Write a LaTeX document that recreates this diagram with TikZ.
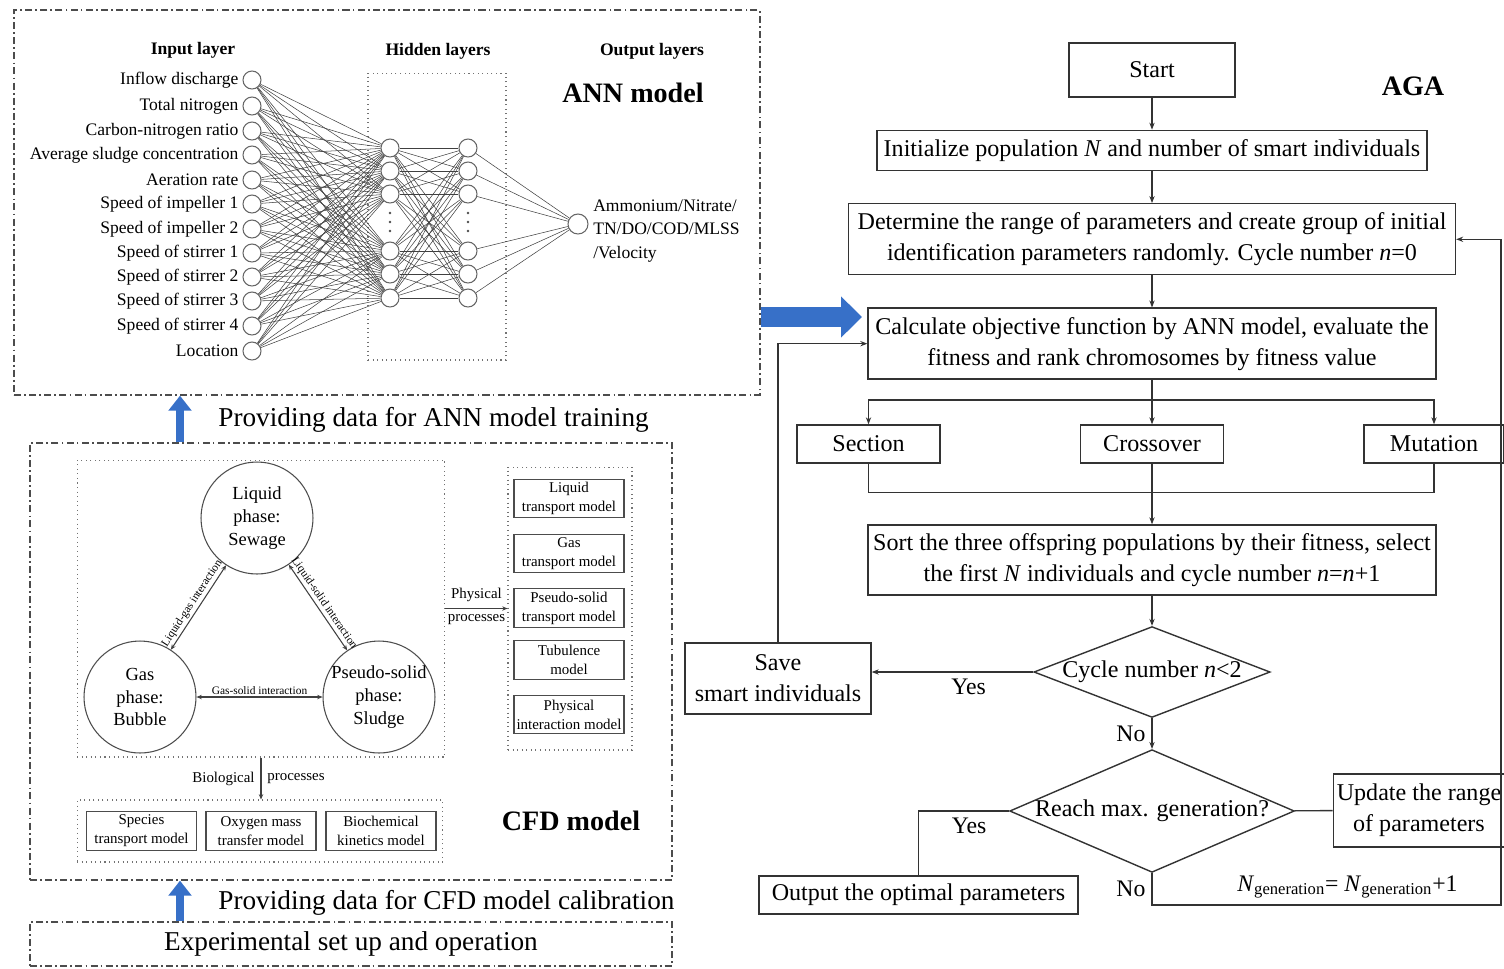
\documentclass[tikz,border=0pt]{standalone}
\usepackage{amsmath}
\usepackage{fontspec}
\setmainfont{Liberation Serif}
\usetikzlibrary{positioning,arrows.meta,shapes.geometric}

\definecolor{arrowblue}{RGB}{55,112,200}

\begin{document}
\begin{tikzpicture}[x=0.02cm,y=-0.02cm,node distance=0.64cm,line width=0.6pt,
  neuron/.style={circle,draw=black!60,inner sep=0pt,minimum size=0.36cm},
  link/.style={draw=black!75,line width=0.3pt},
  inlabel/.style={font=\fontsize{10}{13.3}\selectfont,inner sep=1pt},
  headtxt/.style={font=\bfseries\fontsize{10}{12}\selectfont},
  titletxt/.style={font=\bfseries\fontsize{16}{19}\selectfont},
  notetxt/.style={font=\fontsize{15.5}{18}\selectfont},
  smalltxt/.style={font=\fontsize{8.5}{10}\selectfont},
  tinytxt/.style={font=\fontsize{6.5}{8}\selectfont,inner sep=1pt},
  dashbox/.style={draw=black!70,line width=0.8pt,dash pattern=on 4pt off 1.8pt on 1pt off 1.8pt,inner sep=0pt},
  dotbox/.style={draw=black!55,dotted,line width=0.6pt,inner sep=0pt},
  phase/.style={circle,draw=black!70,inner sep=-8pt,minimum size=2.24cm,align=center,font=\fontsize{10.5}{13}\selectfont},
  model/.style={draw=black!70,inner sep=0pt,minimum width=2.2cm,minimum height=0.77cm,align=center,font=\fontsize{8.5}{10.8}\selectfont},
  interact/.style={draw=black!75,{Stealth[length=3pt,width=2.5pt]}-{Stealth[length=3pt,width=2.5pt]}},
  sarrow/.style={draw=black!75,-{Stealth[length=3pt,width=2.5pt]}},
  fbox/.style={draw=black!80,line width=0.8pt,align=center,inner sep=2pt,font=\fontsize{13.7}{17.6}\selectfont},
  decision/.style={diamond,draw=black!80,line width=0.8pt,inner sep=0pt,align=center,font=\fontsize{13.7}{16}\selectfont},
  flow/.style={draw=black!80,line width=0.8pt,-{Stealth[length=4pt,width=3pt]}},
  fline/.style={draw=black!80,line width=0.8pt},
  fnote/.style={font=\fontsize{13.5}{16}\selectfont},
  bigarrow/.style={draw=arrowblue,line width=0.4cm,-{Triangle[length=0.42cm,width=0.8cm]}},
  uparrow/.style={draw=arrowblue,line width=0.16cm,-{Triangle[length=0.3cm,width=0.45cm]}}]

  \useasboundingbox (0,0) rectangle (1504,968);

  % ANN model
  \node[dashbox,minimum width=14.92cm,minimum height=7.7cm] (ann) at (387,202.5) {};
  \node[dotbox,minimum width=2.76cm,minimum height=5.74cm] (hid) at (437,216.5) {};
  \node[headtxt] (tin) at (193,50) {Input layer};
  \node[headtxt] (thid) at (438,51) {Hidden layers};
  \node[headtxt] (tout) at (652,51) {Output layers};
  \node[titletxt] (tann) at (633,93) {ANN model};

  \foreach \y/\txt [count=\i] in {80/Inflow discharge,106/Total nitrogen,131/Carbon-nitrogen ratio,
      155/Average sludge concentration,180/Aeration rate,204/Speed of impeller 1,229/Speed of impeller 2,
      253/Speed of stirrer 1,277/Speed of stirrer 2,301/Speed of stirrer 3,326/Speed of stirrer 4,351/Location}
  {
    \node[neuron] (in\i) at (252,\y) {};
    \node[inlabel,left=1pt of in\i] (lab\i) {\txt};
  }
  \foreach \y [count=\j] in {148,171,194,251,274,298}
  {
    \node[neuron] (ha\j) at (390,\y) {};
    \node[neuron] (hb\j) at (468,\y) {};
  }
  % dots between the hidden neurons
  \foreach \y in {213,222,231}
  {
    \fill[black!70] (390,\y) circle (0.8pt);
    \fill[black!70] (468,\y) circle (0.8pt);
  }
  \node[neuron,minimum size=0.4cm] (o1) at (578,224) {};
  \node[inlabel,anchor=west,align=left] (olab) at (591,231) {Ammonium/Nitrate/\\TN/DO/COD/MLSS\\/Velocity};

  \foreach \i in {1,...,12}
    \foreach \j in {1,...,6}
      \draw[link] (in\i) -- (ha\j);
  \foreach \i in {1,...,6}
  {
    \foreach \j in {1,...,6}
      \draw[link] (ha\i) -- (hb\j);
    \draw[link] (hb\i) -- (o1);
  }

  % CFD model
  \node[dashbox,minimum width=12.84cm,minimum height=8.74cm] (cfd) at (351,661.5) {};
  \node[dotbox,minimum width=7.36cm,minimum height=5.94cm] (tri) at (261,608.5) {};
  \node[phase] (liq) at (257,518) {Liquid\\phase:\\Sewage};
  \node[phase] (gas) at (140,697) {Gas\\phase:\\Bubble};
  \node[phase] (sol) at (379,697) {Pseudo-solid\\phase:\\Sludge};

  \path[interact,every node/.style={tinytxt}]
    (gas) edge node[sloped,above] {Liquid-gas interaction} (liq)
    (liq) edge node[sloped,above] {Liquid-solid interaction} (sol)
    (sol) edge node[above] {Gas-solid interaction} (gas);

  \node[dotbox,minimum width=2.48cm,minimum height=5.66cm] (phy) at (570,608.5) {};
  \foreach \y/\txt [count=\k] in {498.5/Liquid\\transport model,553.5/Gas\\transport model,
      608/Pseudo-solid\\transport model,660/Tubulence\\model,714.5/Physical\\interaction model}
    \node[model] (pm\k) at (569,\y) {\txt};
  \draw[sarrow] (tri) -- node[above,smalltxt] {Physical} node[below,smalltxt] {processes} (phy);

  \node[dotbox,minimum width=7.32cm,minimum height=1.24cm] (bio) at (260,831) {};
  \node[model] (bm1) at (141.5,831) {Species\\transport model};
  \node[model] (bm2) at (261,831) {Oxygen mass\\transfer model};
  \node[model] (bm3) at (381,831) {Biochemical\\kinetics model};
  \draw[sarrow] (tri.south) -- node[left,smalltxt] {Biological} node[right,smalltxt] {processes} (tri.south |- bio.north);
  \node[titletxt] (tcfd) at (571,821) {CFD model};

  % experiment
  \node[dashbox,minimum width=12.84cm,minimum height=0.88cm,notetxt] (exp) at (351,944) {Experimental set up and operation};

  \coordinate (ax) at (180,0);
  \draw[uparrow] (exp.north -| ax) -- (cfd.south -| ax);
  \draw[uparrow] (cfd.north -| ax) -- (ann.south -| ax);
  \node[notetxt,anchor=west] (n1) at (212,420) {Providing data for ANN model training};
  \node[notetxt,anchor=west] (n2) at (212,903) {Providing data for CFD model calibration};

  % AGA
  \node[titletxt] (taga) at (1413,86) {AGA};
  \node[fbox,minimum width=3.32cm,minimum height=1.08cm] (start) at (1152,70) {Start};
  \node[fbox,minimum width=11cm,minimum height=0.8cm,below=of start] (init) {Initialize population \textit{N} and number of smart individuals};
  \node[fbox,minimum width=12.14cm,minimum height=1.42cm,below=of init] (det) {Determine the range of parameters and create group of initial\\identification parameters randomly. Cycle number \textit{n}=0};
  \node[fbox,minimum width=11.36cm,minimum height=1.42cm,below=of det] (calc) {Calculate objective function by ANN model, evaluate the\\fitness and rank chromosomes by fitness value};
  \node[fbox,minimum width=2.86cm,minimum height=0.76cm] (sec) at (868.5,444) {Section};
  \node[fbox,minimum width=2.86cm,minimum height=0.76cm] (cro) at (1152,444) {Crossover};
  \node[fbox,minimum width=2.8cm,minimum height=0.76cm] (mut) at (1434,444) {Mutation};
  \node[fbox,minimum width=11.36cm,minimum height=1.4cm] (sort) at (1152,560) {Sort the three offspring populations by their fitness, select\\the first \textit{N} individuals and cycle number \textit{n}=\textit{n}+1};
  \node[decision,shape aspect=2.6] (d1) at (1152,672) {Cycle number \textit{n}<2};
  \node[decision,shape aspect=2.32] (d2) at (1152,811) {Reach max. generation?};
  \node[fbox,minimum width=3.72cm,minimum height=1.42cm] (save) at (778,678.5) {Save\\smart individuals};
  \node[fbox,minimum width=6.38cm,minimum height=0.76cm] (opt) at (918.5,895) {Output the optimal parameters};
  \node[fbox,minimum width=3.4cm,minimum height=1.46cm] (upd) at (1419,810.5) {Update the range\\of parameters};

  \path[flow]
    (start) edge (init)
    (init) edge (det)
    (det) edge (calc)
    (calc) edge (cro)
    (cro) edge (sort)
    (sort) edge (d1)
    (d1) edge node[fnote,left] {No} (d2);
  \draw[flow] (calc.south) -- ++(0,20) -| (sec);
  \draw[flow] (calc.south) -- ++(0,20) -| (mut);
  \draw[fline] (sec.south) -- ++(0,29) -| (mut.south);
  \draw[flow] (d1) -- node[fnote,below,pos=0.4] {Yes} (d1.west -| save.east);
  \draw[flow] (save) |- (calc);
  \draw[fline] (d2) -| node[fnote,below,pos=0.22] {Yes} (opt);
  \draw[fline] (d2) -- (upd);
  \coordinate (rt) at (1501,905);
  \draw[flow] (d2) |- node[fnote,pos=0.25,left] {No}
    node[fnote,pos=0.78,above] {\textit{N}\textsubscript{generation}= \textit{N}\textsubscript{generation}+1} (rt) |- (det);

  \coordinate (bt) at (862,317);
  \draw[bigarrow] (ann.east |- bt) -- (bt);
\end{tikzpicture}
\end{document}
